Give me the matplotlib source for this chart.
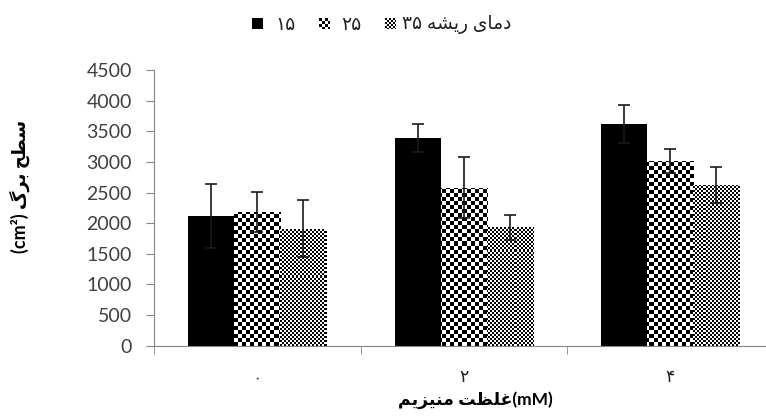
import numpy as np
import matplotlib
matplotlib.use("Agg")
import matplotlib.pyplot as plt
from matplotlib.offsetbox import OffsetImage, AnnotationBbox

plt.rcParams["font.family"] = ["Lato", "DejaVu Sans"]

# data (leaf area, cm2)
mg_levels = ["۰", "۲", "۴"]          # magnesium, mM
area_15 = [2120, 3390, 3620]
err_15 = [520, 230, 310]
area_25 = [2180, 2580, 3010]
err_25 = [330, 500, 195]
area_35 = [1910, 1930, 2620]
err_35 = [470, 200, 290]

# --- tiny persian shaper (matplotlib has no bidi / joining) ---
# iso, final, initial, medial
FORMS = {
    "ا": ("\uFE8D", "\uFE8E", None, None),
    "ب": ("\uFE8F", "\uFE90", "\uFE91", "\uFE92"),
    "ت": ("\uFE95", "\uFE96", "\uFE97", "\uFE98"),
    "ح": ("\uFEA1", "\uFEA2", "\uFEA3", "\uFEA4"),
    "د": ("\uFEA9", "\uFEAA", None, None),
    "ر": ("\uFEAD", "\uFEAE", None, None),
    "ز": ("\uFEAF", "\uFEB0", None, None),
    "س": ("\uFEB1", "\uFEB2", "\uFEB3", "\uFEB4"),
    "ش": ("\uFEB5", "\uFEB6", "\uFEB7", "\uFEB8"),
    "ط": ("\uFEC1", "\uFEC2", "\uFEC3", "\uFEC4"),
    "ظ": ("\uFEC5", "\uFEC6", "\uFEC7", "\uFEC8"),
    "غ": ("\uFECD", "\uFECE", "\uFECF", "\uFED0"),
    "ل": ("\uFEDD", "\uFEDE", "\uFEDF", "\uFEE0"),
    "م": ("\uFEE1", "\uFEE2", "\uFEE3", "\uFEE4"),
    "ن": ("\uFEE5", "\uFEE6", "\uFEE7", "\uFEE8"),
    "ه": ("\uFEE9", "\uFEEA", "\uFEEB", "\uFEEC"),
    "ی": ("\uFBFC", "\uFBFD", "\uFBFE", "\uFBFF"),
    "گ": ("\uFB92", "\uFB93", "\uFB94", "\uFB95"),
}


def shape(text):
    out = []
    for i, ch in enumerate(text):
        if ch not in FORMS:
            out.append(ch)
            continue
        prev = text[i - 1] if i > 0 else None
        nxt = text[i + 1] if i + 1 < len(text) else None
        join_prev = prev in FORMS and FORMS[prev][2] is not None
        join_next = FORMS[ch][2] is not None and nxt in FORMS
        iso, fin, ini, med = FORMS[ch]
        if join_prev and join_next:
            out.append(med)
        elif join_prev:
            out.append(fin)
        elif join_next:
            out.append(ini)
        else:
            out.append(iso)
    return "".join(out)[::-1]   # visual (left to right) order


def checker(nrows, ncols, cell):
    yy, xx = np.indices((nrows, ncols))
    return ((yy // cell + xx // cell) % 2).astype(float)


fig = plt.figure(figsize=(7.66, 4.16), dpi=100)
ax = fig.add_axes([154 / 766, 70.3 / 416, 619.5 / 766, 275.7 / 416])

x = np.arange(len(mg_levels))
width = 0.223

ax.bar(x - width, area_15, width=width, color="black", zorder=2)
bars_25 = ax.bar(x, area_25, width=width, color="none", edgecolor="none", zorder=2)
bars_35 = ax.bar(x + width, area_35, width=width, color="none", edgecolor="none", zorder=2)

# checker fills, one pixel per array cell over the whole axes, clipped to each bar
pat_25 = checker(276, 620, 4)
pat_35 = checker(276, 620, 2)
for bars, pat in [(bars_25, pat_25), (bars_35, pat_35)]:
    for b in bars:
        im = ax.imshow(pat, cmap="gray", vmin=0, vmax=1, extent=(-0.5, 2.5, 0, 4500),
                       aspect="auto", interpolation="nearest", zorder=2)
        im.set_clip_path(b)

for xs, vals, errs in [(x - width, area_15, err_15), (x, area_25, err_25), (x + width, area_35, err_35)]:
    ax.errorbar(xs, vals, yerr=errs, fmt="none", ecolor="#1a1a1a", elinewidth=1.2,
                capsize=4.5, capthick=1.2, zorder=3)

ax.set_xlim(-0.5, 2.5)
ax.set_ylim(0, 4500)
ax.set_yticks(np.arange(0, 4501, 500))
ax.set_xticks(x)
ax.set_xticklabels(mg_levels, fontsize=12.5)
ax.set_xticks([-0.5, 0.5, 1.5, 2.5], minor=True)

for s in ["top", "right"]:
    ax.spines[s].set_visible(False)
for s in ["left", "bottom"]:
    ax.spines[s].set_color("#868686")

ax.tick_params(axis="y", length=6, color="#868686", pad=10, labelsize=14, labelcolor="#404040")
ax.tick_params(axis="x", which="major", length=0, pad=17, labelcolor="#222222")
ax.tick_params(axis="x", which="minor", length=6, color="#868686")

# axis titles placed in figure pixels (centre of the text)
fig.text(475 / 766, 1 - 400 / 416, shape("غلظت منیزیم") + "(mM)",
         ha="center", va="center", fontsize=12.5, fontweight="bold")
fig.text(20 / 766, 1 - 186 / 416, "(cm²) " + shape("سطح برگ"), rotation=90,
         ha="center", va="center", fontsize=13, fontweight="bold")

# legend along the top
legend_items = [
    (np.zeros((11, 11)), "۱۵", 257, 275),
    (checker(11, 11, 3), "۲۵", 324, 341),
    (checker(11, 11, 2), "۳۵ " + shape("دمای ریشه"), 390, 402),
]
for icon, label, ix, tx in legend_items:
    oi = OffsetImage(icon, cmap="gray", norm=plt.Normalize(0, 1), dpi_cor=False)
    fig.add_artist(AnnotationBbox(oi, (ix, 416 - 24), xycoords="figure pixels", frameon=False))
    fig.text(tx / 766, 1 - 24 / 416, label, ha="left", va="center", fontsize=13.5, color="#222222")

fig.savefig("out.png", dpi=100)
